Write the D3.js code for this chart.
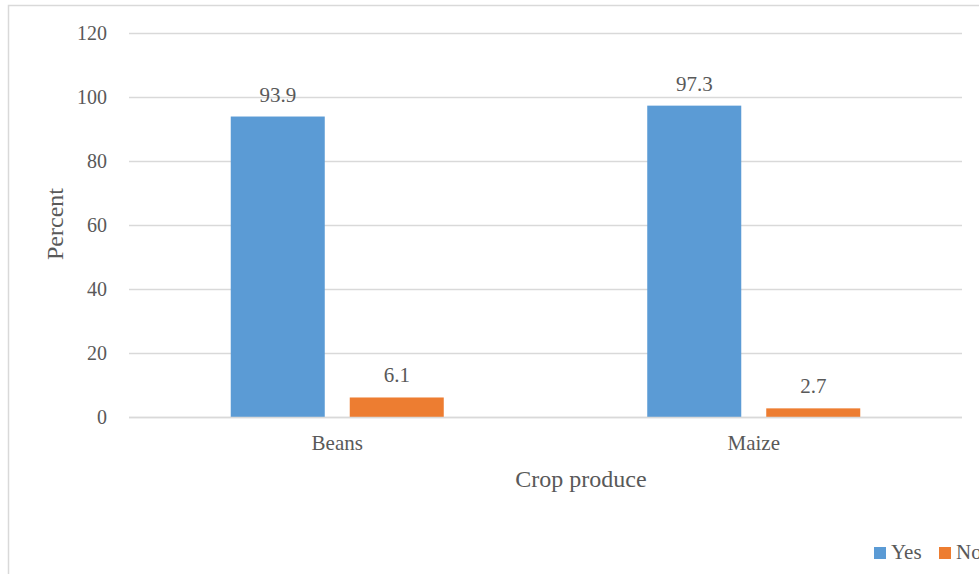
<!DOCTYPE html>
<html><head><meta charset="utf-8">
<script src="https://cdn.jsdelivr.net/npm/d3@7"></script>
<style>body{margin:0;background:#fff}svg{display:block}svg text{font-family:'Liberation Serif','Times New Roman',serif;fill:#595959}</style>
</head><body>
<script>
const categories = ["Beans", "Maize"];
const seriesNames = ["Yes", "No"];
const yesValues = [93.9, 97.3];
const noValues = [6.1, 2.7];
const yTicks = [0, 20, 40, 60, 80, 100, 120];
const colors = ["#5B9BD5", "#ED7D31"];

(function () {
const W = 979, H = 574;
const svg = d3.select("body").append("svg").attr("width", W).attr("height", H);

svg.append("rect").attr("x", 8.5).attr("y", 5.5).attr("width", 1000).attr("height", 600)
  .attr("fill", "#fff").attr("stroke", "#D9D9D9").attr("stroke-width", 1.5);

const pLeft = 129, pRight = 962, pTop = 33, pBottom = 417;
const x0 = d3.scaleBand().domain(categories).range([pLeft, pRight]).paddingInner(0).paddingOuter(0);
const x1 = d3.scaleBand().domain(seriesNames).range([0, x0.bandwidth()]).paddingInner(0.21).paddingOuter(0.855);
const y = d3.scaleLinear().domain([0, 120]).range([pBottom, pTop]);

const yAxis = d3.axisLeft(y).tickValues(yTicks).tickSize(-(pRight - pLeft)).tickPadding(22);
const gy = svg.append("g").attr("transform", `translate(${pLeft},0)`).call(yAxis);
gy.select(".domain").remove();
gy.selectAll(".tick line").attr("stroke", "#D9D9D9").attr("stroke-width", 1.3);
gy.selectAll(".tick text").style("font-size", "20px");

const data = categories.map((c, i) => ({cat: c, vals: [yesValues[i], noValues[i]]}));
const groups = svg.append("g").selectAll("g").data(data).join("g")
  .attr("transform", d => `translate(${x0(d.cat)},0)`);
groups.selectAll("rect").data(d => d.vals.map((v, j) => ({s: seriesNames[j], v, j})))
  .join("rect")
  .attr("x", d => x1(d.s)).attr("width", x1.bandwidth())
  .attr("y", d => y(d.v)).attr("height", d => y(0) - y(d.v))
  .attr("fill", d => colors[d.j]);
groups.selectAll("text.lbl").data(d => d.vals.map((v, j) => ({s: seriesNames[j], v, j})))
  .join("text").attr("class", "lbl")
  .attr("x", d => x1(d.s) + x1.bandwidth() / 2).attr("y", d => y(d.v) - 15)
  .attr("text-anchor", "middle").style("font-size", "21px")
  .text(d => d.v.toFixed(1));

svg.append("line").attr("x1", pLeft).attr("x2", pRight).attr("y1", pBottom + 0.5).attr("y2", pBottom + 0.5)
  .attr("stroke", "#D9D9D9").attr("stroke-width", 1.3);
const xAxis = d3.axisBottom(x0).tickSize(0).tickPadding(18);
const gx = svg.append("g").attr("transform", `translate(0,${pBottom})`).call(xAxis);
gx.select(".domain").remove();
gx.selectAll(".tick text").style("font-size", "21px");

svg.append("text").attr("x", 581).attr("y", 487).attr("text-anchor", "middle")
  .style("font-size", "24px").text("Crop produce");
svg.append("text").attr("transform", `translate(63,224) rotate(-90)`).attr("text-anchor", "middle")
  .style("font-size", "24px").text("Percent");

const legendX = [874, 939];
seriesNames.forEach((s, i) => {
  svg.append("rect").attr("x", legendX[i]).attr("y", 547).attr("width", 12).attr("height", 12).attr("fill", colors[i]);
  svg.append("text").attr("x", legendX[i] + 17).attr("y", 559).style("font-size", "21px").text(s);
});
})();
</script>
</body></html>
